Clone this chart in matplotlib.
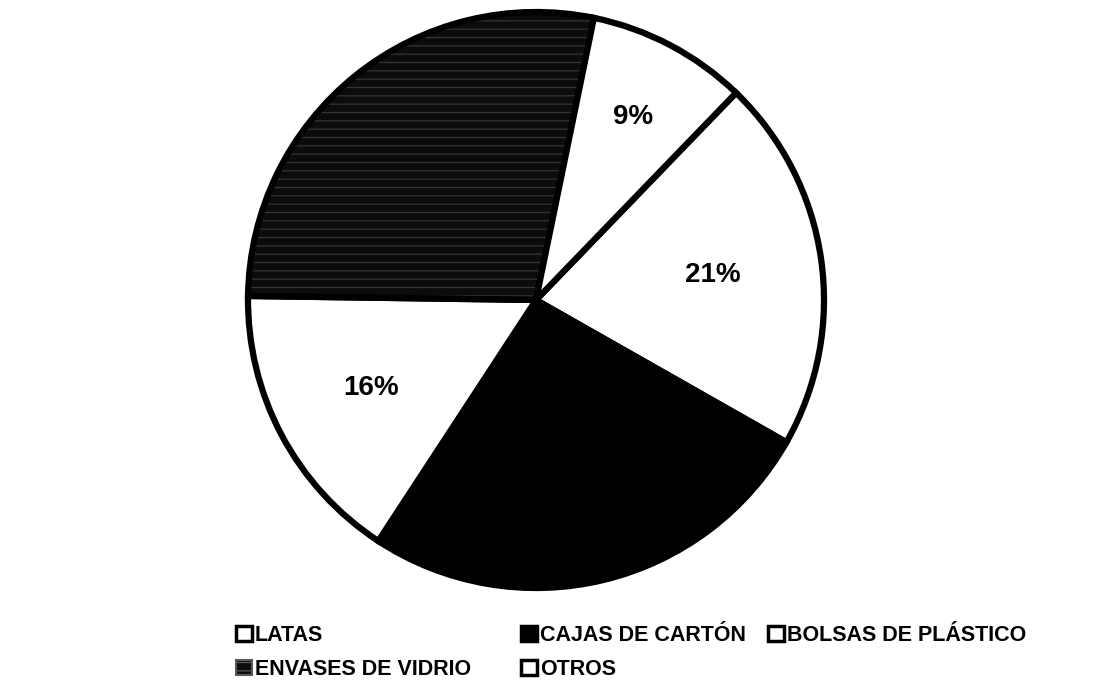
import matplotlib
matplotlib.use("Agg")
import matplotlib.pyplot as plt
from matplotlib.patches import Wedge, Patch
import numpy as np

categories = ["LATAS", "CAJAS DE CARTÓN", "BOLSAS DE PLÁSTICO", "ENVASES DE VIDRIO", "OTROS"]
values = [21, 26, 16, 28, 9]
shown_labels = ["21%", None, "16%", None, "9%"]

face = ["white", "black", "white", "#0c0c0c", "white"]
label_r = [0.62, 0.6, 0.65, 0.6, 0.72]

plt.rcParams['font.family'] = ['Liberation Sans', 'DejaVu Sans']
plt.rcParams['hatch.linewidth'] = 0.9

W, H = 1102, 688
fig = plt.figure(figsize=(W / 100, H / 100), dpi=100)
cx, cy, R = 536, 300, 288
ax = fig.add_axes([(cx - R) / W, (H - cy - R) / H, 2 * R / W, 2 * R / H])

lw = 4.5
wedges, _ = ax.pie(values, startangle=46, counterclock=False, colors=face,
                   wedgeprops=dict(edgecolor='black', linewidth=lw, clip_on=False))

# hatched texture for ENVASES DE VIDRIO
wv = wedges[3]
under = Wedge(wv.center, wv.r, wv.theta1, wv.theta2, facecolor='#0c0c0c',
              edgecolor='#353535', hatch='--', linewidth=0, zorder=wv.get_zorder() - 0.1,
              clip_on=False)
ax.add_patch(under)
wv.set_facecolor('none')

for w, lab, r in zip(wedges, shown_labels, label_r):
    if lab is None:
        continue
    ang = np.deg2rad((w.theta1 + w.theta2) / 2)
    ax.text(r * np.cos(ang), r * np.sin(ang), lab, ha='center', va='center',
            fontsize=20, fontweight='bold', color='black')

ax.set_xlim(-1, 1)
ax.set_ylim(-1, 1)
ax.set_aspect('equal')
ax.axis('off')

handles = []
for i, c in enumerate(categories):
    if i == 3:
        handles.append(Patch(facecolor='#0c0c0c', edgecolor='#5a5a5a', hatch='--', linewidth=1.5))
    else:
        handles.append(Patch(facecolor=face[i], edgecolor='black', linewidth=2.5))

# legend laid out row-major in 3 columns (two rows)
columns = [[0, 3], [1, 4], [2]]
col_x = [236, 521, 768]
leg_prop = dict(size=15.5, weight='bold')
for idx, x in zip(columns, col_x):
    lg = fig.legend([handles[i] for i in idx], [categories[i] for i in idx],
                    loc='upper left', bbox_to_anchor=(x / W, 1 - 625 / H),
                    frameon=False, prop=leg_prop,
                    handlelength=0.72, handleheight=0.72, handletextpad=0.15,
                    labelspacing=0.6, borderpad=0, borderaxespad=0)

fig.savefig("out.png", dpi=100, facecolor='white')
